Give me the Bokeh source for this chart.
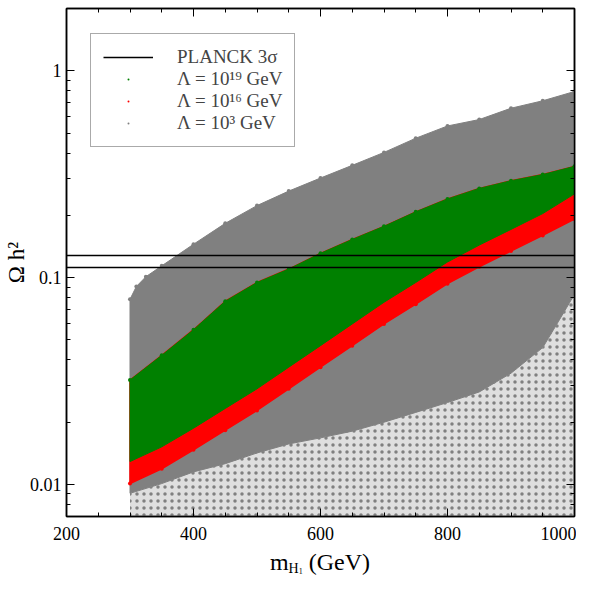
from bokeh.plotting import figure
from bokeh.layouts import column
from bokeh.models import (FixedTicker, LinearAxis, LogAxis, Legend, LegendItem,
                          CustomJSTickFormatter, Div)
from bokeh.embed import file_html
from bokeh.resources import INLINE

FONT = "Liberation Serif"

# ---------------- data ----------------
x_min, x_max = 200, 1000
y_min, y_max = 0.007, 2.0

x_major = [200, 400, 600, 800, 1000]
x_minor = [200, 250, 300, 350, 400, 450, 500, 550, 600, 650, 700, 750, 800, 850, 900, 950, 1000]
y_major = [0.01, 0.1, 1]
y_minor = [0.007, 0.008, 0.009, 0.02, 0.03, 0.04, 0.05, 0.06, 0.07, 0.08, 0.09,
           0.2, 0.3, 0.4, 0.5, 0.6, 0.7, 0.8, 0.9, 2.0]

planck_low, planck_high = 0.1118, 0.1280

# Lambda = 10^3 GeV (gray): dense region
gray_top_x = [300, 310, 325, 350, 400, 450, 500, 550, 600, 650, 700, 750, 800, 850, 900, 950, 1000]
gray_top = [0.0786, 0.0906, 0.101, 0.114, 0.145, 0.183, 0.223, 0.262, 0.303, 0.349,
            0.403, 0.472, 0.541, 0.581, 0.659, 0.716, 0.794]
gray_low_x = [300, 350, 400, 450, 500, 550, 600, 650, 700, 750, 800, 850, 900, 950, 975, 1000]
gray_low = [0.00906, 0.0101, 0.0115, 0.0126, 0.0142, 0.0157, 0.0168, 0.0181, 0.0200,
            0.0223, 0.0249, 0.0280, 0.0345, 0.0459, 0.0616, 0.083]

# Lambda = 10^19 GeV (green) and 10^16 GeV (red) bands
band_x = [300, 350, 400, 450, 500, 550, 600, 650, 700, 750, 800, 850, 900, 950, 1000]
green_top = [0.032, 0.0421, 0.056, 0.0769, 0.0947, 0.110, 0.131, 0.153, 0.177, 0.208,
             0.240, 0.270, 0.294, 0.315, 0.345]
green_low = [0.0129, 0.0152, 0.0187, 0.0233, 0.029, 0.0369, 0.0469, 0.0597, 0.076,
             0.0947, 0.119, 0.1436, 0.171, 0.204, 0.254]
red_low = [0.0101, 0.0119, 0.0147, 0.0183, 0.0228, 0.029, 0.0369, 0.0469, 0.0597,
           0.0744, 0.0935, 0.1129, 0.1344, 0.160, 0.192]

legend_labels = ["PLANCK 3σ", "Λ = 10¹⁹ GeV", "Λ = 10¹⁶ GeV", "Λ = 10³ GeV"]
x_title_html = ("m<sub style='font-size:14px;vertical-align:-3px'>H"
                "<sub style='font-size:8px;vertical-align:-1px'>1</sub></sub> (GeV)")
y_title = "Ω h²"

GRAY, GREEN, RED = "#808080", "#008000", "#ff0000"

# ---------------- figure ----------------
p = figure(width=576, height=550, y_axis_type="log",
           x_range=(x_min, x_max), y_range=(y_min, y_max),
           output_backend="svg", toolbar_location=None,
           min_border_left=66, min_border_right=2, min_border_top=8,
           min_border_bottom=34)
p.background_fill_color = "white"
p.border_fill_color = "white"
p.outline_line_color = "black"
p.outline_line_width = 1.5
p.xgrid.visible = False
p.ygrid.visible = False

# sparse gray scatter below the dense gray region
sparse_x = gray_low_x + [gray_low_x[-1], gray_low_x[0]]
sparse_y = gray_low + [y_min, y_min]
p.patch(sparse_x, sparse_y, fill_color=GRAY, fill_alpha=0.25, line_color=None,
        hatch_pattern="dot", hatch_color=GRAY, hatch_scale=7, hatch_weight=3)

# dense gray
p.patch(gray_top_x + gray_low_x[::-1], gray_top + gray_low[::-1],
        fill_color=GRAY, line_color=GRAY, line_width=1)
# red band
p.patch(band_x + band_x[::-1], green_top + red_low[::-1],
        fill_color=RED, line_color=RED, line_width=1.5)
# green band
p.patch(band_x + band_x[::-1], green_top + green_low[::-1],
        fill_color=GREEN, line_color=GREEN, line_width=1)

# scattered edge points (also used as legend glyphs)
r_k = p.scatter(gray_top_x, gray_top, marker="dot", size=16, color=GRAY)
r_r = p.scatter(band_x, red_low, marker="dot", size=16, color=RED)
r_g = p.scatter(band_x, green_top, marker="dot", size=16, color=GREEN)

# Planck 3 sigma band limits
r_line = p.line([x_min, x_max], [planck_low, planck_low], line_color="black", line_width=1.5)
p.line([x_min, x_max], [planck_high, planck_high], line_color="black", line_width=1.5)

legend = Legend(items=[LegendItem(label=legend_labels[0], renderers=[r_line]),
                       LegendItem(label=legend_labels[1], renderers=[r_g]),
                       LegendItem(label=legend_labels[2], renderers=[r_r]),
                       LegendItem(label=legend_labels[3], renderers=[r_k])],
                location=(24, 369), label_text_font=FONT, label_text_font_size="19px",
                border_line_color="#555555", border_line_width=1.5,
                padding=12, spacing=0, label_height=20, glyph_height=20,
                glyph_width=50, label_standoff=24, margin=0)
p.add_layout(legend)

# ---------------- axes ----------------
x_ticker = FixedTicker(ticks=x_major, minor_ticks=x_minor)
y_ticker = FixedTicker(ticks=y_major, minor_ticks=y_minor)


def style(ax, labels, standoff=8):
    ax.axis_line_color = "black"
    ax.axis_line_width = 1.5
    ax.major_tick_in = 8
    ax.major_tick_out = 0
    ax.minor_tick_in = 4
    ax.minor_tick_out = 0
    ax.major_tick_line_color = "black"
    ax.minor_tick_line_color = "black"
    ax.major_label_text_font = FONT
    ax.major_label_text_color = "black"
    if labels:
        ax.major_label_text_font_size = "18px"
        ax.major_label_standoff = standoff
    else:
        ax.major_label_text_font_size = "1px"
        ax.major_label_text_alpha = 0
        ax.major_label_standoff = 0


xa = p.xaxis[0]
xa.ticker = x_ticker
style(xa, True, 10)
ya = p.yaxis[0]
ya.ticker = y_ticker
ya.formatter = CustomJSTickFormatter(code="return String(tick);")
style(ya, True, 5)
ya.axis_label = y_title
ya.axis_label_text_font = FONT
ya.axis_label_text_font_size = "23px"
ya.axis_label_text_font_style = "normal"
ya.axis_label_text_color = "black"
ya.axis_label_standoff = -2

top = LinearAxis(ticker=x_ticker)
style(top, False)
p.add_layout(top, "above")
right = LogAxis(ticker=y_ticker)
style(right, False)
p.add_layout(right, "right")

x_title = Div(text=x_title_html, width=508, height=26, margin=(0, 0, 0, 66),
              styles={"text-align": "center", "font-family": FONT,
                      "font-size": "24px", "line-height": "24px", "color": "black"})

layout = column(p, x_title, spacing=0)
open("out.html", "w").write(file_html(layout, INLINE))
